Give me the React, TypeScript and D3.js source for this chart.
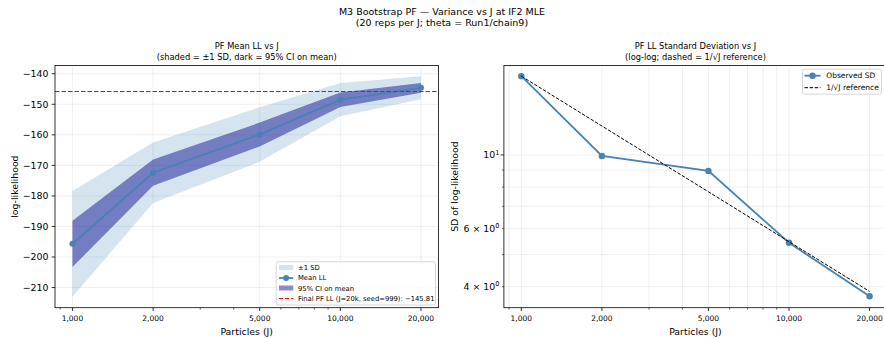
import React from "react";
import * as d3 from "d3";

const particles = [1000, 2000, 5000, 10000, 20000];
const particleTickLabels = ["1,000", "2,000", "5,000", "10,000", "20,000"];
const meanLL = [-195.7, -172.4, -159.9, -148.5, -144.6];
const sdLL = [17.3, 9.93, 8.95, 5.43, 3.74];
const ciLower = [-203.3, -176.7, -163.8, -150.9, -146.2];
const ciUpper = [-188.1, -168.1, -156.0, -146.1, -143.0];
const refSD = [17.3, 12.23, 7.74, 5.47, 3.87];
const finalLL = -145.81;
const llTicks = [-140, -150, -160, -170, -180, -190, -200, -210];
const sdMinorTicks = [4, 5, 6, 7, 8, 9, 10];
const sdTickLabels = [
  { v: 10, base: "10", exp: "1" },
  { v: 6, base: "6 \u00d7 10", exp: "0" },
  { v: 4, base: "4 \u00d7 10", exp: "0" },
];
const xMinorTicks = [900, 3000, 4000, 6000, 7000, 8000, 9000];

const FONT = "DejaVu Sans, Liberation Sans, sans-serif";
const STEEL = "steelblue";
const RED = "#ff0000";

export default function App() {
  const W = 884, H = 338;
  const top = 65.5, bottom = 307.7;

  const xL = d3.scaleLog().domain([10 ** 2.9349, 10 ** 4.3661]).range([55, 438.4]);
  const yL = d3.scaleLinear().domain([-216.6, -137.3]).range([bottom, top]);
  const xR = d3.scaleLog().domain([10 ** 2.9349, 10 ** 4.3661]).range([503.9, 887]);
  const yR = d3.scaleLog().domain([10 ** 0.5385, 10 ** 1.2703]).range([bottom, top]);

  const idx = particles.map((_, i) => i);

  const sdArea = d3.area<number>()
    .x((i) => xL(particles[i]))
    .y0((i) => yL(meanLL[i] - sdLL[i]))
    .y1((i) => yL(meanLL[i] + sdLL[i]));
  const ciArea = d3.area<number>()
    .x((i) => xL(particles[i]))
    .y0((i) => yL(ciLower[i]))
    .y1((i) => yL(ciUpper[i]));
  const meanLine = d3.line<number>().x((i) => xL(particles[i])).y((i) => yL(meanLL[i]));
  const sdLine = d3.line<number>().x((i) => xR(particles[i])).y((i) => yR(sdLL[i]));
  const refLine = d3.line<number>().x((i) => xR(particles[i])).y((i) => yR(refSD[i]));

  const gridColor = "#b0b0b0";
  const redY = Math.round(yL(finalLL)) + 0.5;

  const xAxis = (x: any, x0: number, x1: number) => (
    <g>
      {particles.map((p, i) => (
        <g key={p}>
          <line x1={x(p)} x2={x(p)} y1={bottom} y2={bottom + 3.3} stroke="#000" strokeWidth={0.8} />
          <text x={x(p)} y={321} fontSize={7.5} textAnchor="middle" fontFamily={FONT} fill="#000">
            {particleTickLabels[i]}
          </text>
        </g>
      ))}
      {xMinorTicks.map((m) => (
        <line key={m} x1={x(m)} x2={x(m)} y1={bottom} y2={bottom + 1.9} stroke="#000" strokeWidth={0.6} />
      ))}
      <text x={(x0 + x1) / 2} y={335} fontSize={9.4} textAnchor="middle" fontFamily={FONT} fill="#000">
        Particles (J)
      </text>
    </g>
  );

  return (
    <svg width={W} height={H} style={{ position: "absolute", left: 0, top: 0, background: "#fff" }}>
      <rect x={0} y={0} width={W} height={H} fill="#fff" />
      <text x={442} y={15} fontSize={9.5} textAnchor="middle" fontFamily={FONT} fill="#000">
        M3 Bootstrap PF — Variance vs J at IF2 MLE
      </text>
      <text x={442} y={26.2} fontSize={9.5} textAnchor="middle" fontFamily={FONT} fill="#000">
        (20 reps per J; theta = Run1/chain9)
      </text>

      {/* ===== LEFT PANEL ===== */}
      <text x={246.7} y={48.8} fontSize={8.3} textAnchor="middle" fontFamily={FONT} fill="#000">PF Mean LL vs J</text>
      <text x={246.7} y={60.2} fontSize={8.3} textAnchor="middle" fontFamily={FONT} fill="#000">
        (shaded = ±1 SD, dark = 95% CI on mean)
      </text>
      <defs>
        <clipPath id="clipL"><rect x={55} y={top} width={438.4 - 55} height={bottom - top} /></clipPath>
        <clipPath id="clipR"><rect x={503.9} y={top} width={887 - 503.9} height={bottom - top} /></clipPath>
      </defs>
      <g clipPath="url(#clipL)">
        {llTicks.map((t) => (
          <line key={t} x1={55} x2={438.4} y1={yL(t)} y2={yL(t)} stroke={gridColor} strokeOpacity={0.3} strokeWidth={0.7} />
        ))}
        {particles.map((p) => (
          <line key={p} x1={xL(p)} x2={xL(p)} y1={top} y2={bottom} stroke={gridColor} strokeOpacity={0.3} strokeWidth={0.7} />
        ))}
        <path d={sdArea(idx) || ""} fill={STEEL} fillOpacity={0.22} />
        <path d={ciArea(idx) || ""} fill="#00008b" fillOpacity={0.45} />
        <path d={meanLine(idx) || ""} fill="none" stroke={STEEL} strokeWidth={1.8} />
        {idx.map((i) => (
          <circle key={i} cx={xL(particles[i])} cy={yL(meanLL[i])} r={3} fill={STEEL} />
        ))}
      </g>
      <line x1={55} x2={438.4} y1={redY} y2={redY} stroke={RED} strokeWidth={1.2} strokeDasharray="4.5,2" />
      <rect x={55} y={top} width={438.4 - 55} height={bottom - top} fill="none" stroke="#000" strokeWidth={0.8} />
      {llTicks.map((t) => (
        <g key={t}>
          <line x1={51.7} x2={55} y1={yL(t)} y2={yL(t)} stroke="#000" strokeWidth={0.8} />
          <text x={48.5} y={yL(t) + 3.4} fontSize={9.4} textAnchor="end" fontFamily={FONT} fill="#000">
            {"\u2212" + Math.abs(t)}
          </text>
        </g>
      ))}
      <text transform={`translate(17.5,${(top + bottom) / 2}) rotate(-90)`} fontSize={9.4} textAnchor="middle" fontFamily={FONT} fill="#000">
        log-likelihood
      </text>
      {xAxis(xL, 55, 438.4)}
      <g fontFamily={FONT} fontSize={6.8} fill="#000">
        <rect x={276.2} y={261.8} width={159.3} height={43.2} rx={2} fill="#fff" fillOpacity={0.8} stroke="#ccc" strokeWidth={0.8} />
        <rect x={279} y={265} width={14.2} height={5} fill={STEEL} fillOpacity={0.22} />
        <text x={298} y={270.2}>±1 SD</text>
        <line x1={279} x2={293.2} y1={278} y2={278} stroke={STEEL} strokeWidth={1.8} />
        <circle cx={286.1} cy={278} r={3} fill={STEEL} />
        <text x={298} y={280.4}>Mean LL</text>
        <rect x={279} y={285.5} width={14.2} height={5} fill="#00008b" fillOpacity={0.45} />
        <text x={298} y={290.6}>95% CI on mean</text>
        <line x1={279} x2={293.2} y1={298.5} y2={298.5} stroke={RED} strokeWidth={1.2} strokeDasharray="4,2" />
        <text x={298} y={300.6}>Final PF LL (J=20k, seed=999): −145.81</text>
      </g>

      {/* ===== RIGHT PANEL ===== */}
      <text x={695.5} y={48.8} fontSize={8.3} textAnchor="middle" fontFamily={FONT} fill="#000">PF LL Standard Deviation vs J</text>
      <text x={695.5} y={60.2} fontSize={8.3} textAnchor="middle" fontFamily={FONT} fill="#000">
        (log-log; dashed = 1/√J reference)
      </text>
      <g clipPath="url(#clipR)">
        {sdMinorTicks.map((t) => (
          <line key={t} x1={503.9} x2={887} y1={yR(t)} y2={yR(t)} stroke={gridColor} strokeOpacity={0.3} strokeWidth={0.7} />
        ))}
        {[...particles, ...xMinorTicks].map((p) => (
          <line key={p} x1={xR(p)} x2={xR(p)} y1={top} y2={bottom} stroke={gridColor} strokeOpacity={0.3} strokeWidth={0.7} />
        ))}
        <path d={sdLine(idx) || ""} fill="none" stroke={STEEL} strokeWidth={1.8} />
        {idx.map((i) => (
          <circle key={i} cx={xR(particles[i])} cy={yR(sdLL[i])} r={3.2} fill={STEEL} />
        ))}
        <path d={refLine(idx) || ""} fill="none" stroke="#000" strokeWidth={1} strokeDasharray="3.5,1.6" />
      </g>
      <rect x={503.9} y={top} width={887 - 503.9} height={bottom - top} fill="none" stroke="#000" strokeWidth={0.8} />
      {sdMinorTicks.map((t) => (
        <line key={t} x1={t === 10 ? 500.6 : 502} x2={503.9} y1={yR(t)} y2={yR(t)} stroke="#000" strokeWidth={t === 10 ? 0.8 : 0.6} />
      ))}
      {sdTickLabels.map((s) => (
        <text key={s.v} x={499.5} y={yR(s.v) + 3.4} fontSize={9.4} textAnchor="end" fontFamily={FONT} fill="#000">
          {s.base}
          <tspan dy={-3.6} fontSize={6.6}>{s.exp}</tspan>
        </text>
      ))}
      <text transform={`translate(458,${(top + bottom) / 2}) rotate(-90)`} fontSize={9.4} textAnchor="middle" fontFamily={FONT} fill="#000">
        SD of log-likelihood
      </text>
      {xAxis(xR, 503.9, 887)}
      <g fontFamily={FONT} fontSize={7.5} fill="#000">
        <rect x={802.5} y={69.2} width={79} height={25} rx={2} fill="#fff" fillOpacity={0.8} stroke="#ccc" strokeWidth={0.8} />
        <line x1={804.5} x2={820.5} y1={75.7} y2={75.7} stroke={STEEL} strokeWidth={1.8} />
        <circle cx={812.5} cy={75.7} r={3.2} fill={STEEL} />
        <text x={826.3} y={78.4}>Observed SD</text>
        <line x1={804.5} x2={820.5} y1={87.7} y2={87.7} stroke="#000" strokeWidth={1} strokeDasharray="3.5,1.6" />
        <text x={826.3} y={90.4}>1/√J reference</text>
      </g>
    </svg>
  );
}
